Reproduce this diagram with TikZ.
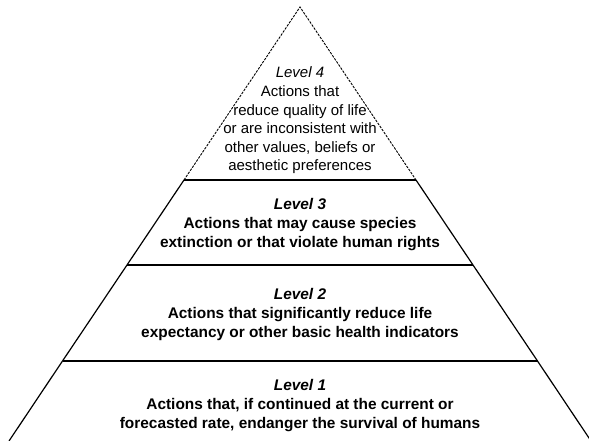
\documentclass[tikz,border=0pt]{standalone}
\usepackage{fontspec}
\setmainfont{Liberation Sans}
\usepackage{tikz}
\tikzstyle{lvltext}=[align=center,anchor=base,inner sep=0pt,font=\fontsize{15}{18.6}\selectfont]
\tikzstyle{lvlbold}=[lvltext,font=\fontsize{15.4}{18.8}\selectfont\bfseries]
\tikzstyle{side}=[line width=1.2pt]
\tikzstyle{topside}=[line width=0.9pt,dash pattern=on 2.5pt off 1.2pt]

\begin{document}
\begin{tikzpicture}[x=1pt,y=-1pt]
\useasboundingbox (0,0) rectangle (589,441);
\coordinate (apex) at (300,7);
\coordinate (l4) at (184,180);
\coordinate (r4) at (416,180);
\coordinate (l3) at (127,265);
\coordinate (r3) at (473,265);
\coordinate (l2) at (62.5,361);
\coordinate (r2) at (537.5,361);
\coordinate (l1) at (9,441);
\coordinate (r1) at (591,441);
\draw[topside] (l4)--(apex)--(r4);
\draw[side] (l4)--(l3)--(l2)--(l1);
\draw[side] (r4)--(r3)--(r2)--(r1);
\draw[side] (l4)--(r4);
\draw[side] (l3)--(r3);
\draw[side] (l2)--(r2);
% anchor base = baseline of the last line
\node[lvltext] (lvl4) at (300,171) {\textit{Level 4}\\Actions that\\reduce quality of life\\or are inconsistent with\\other values, beliefs or\\aesthetic preferences};
\node[lvlbold] (lvl3) at (300,247) {\textit{Level 3}\\Actions that may cause species\\extinction or that violate human rights};
\node[lvlbold] (lvl2) at (300,337) {\textit{Level 2}\\Actions that significantly reduce life\\expectancy or other basic health indicators};
\node[lvlbold] (lvl1) at (300,428) {\textit{Level 1}\\Actions that, if continued at the current or\\forecasted rate, endanger the survival of humans};
\end{tikzpicture}
\end{document}
